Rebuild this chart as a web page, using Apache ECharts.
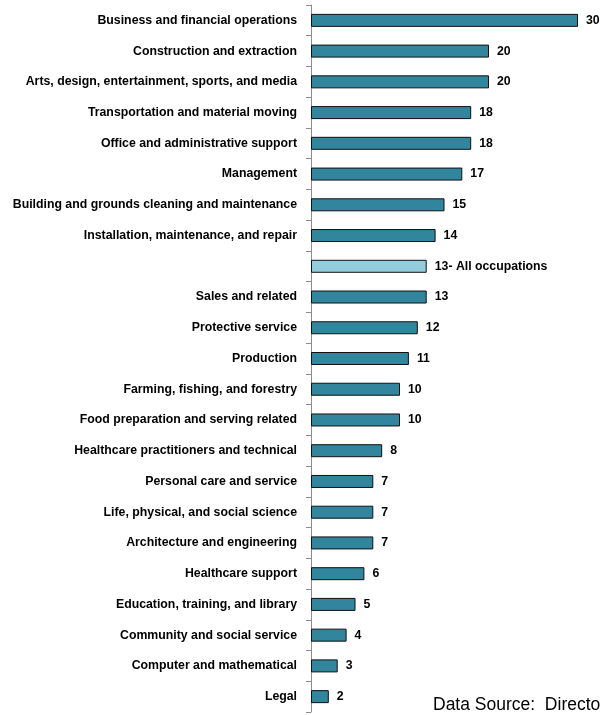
<!DOCTYPE html>
<html>
<head>
<meta charset="utf-8">
<script src="https://cdn.jsdelivr.net/npm/echarts@6/dist/echarts.min.js"></script>
<style>
  html, body { margin: 0; padding: 0; background: #fff; }
  #chart { width: 602px; height: 715px; }
</style>
</head>
<body>
<div id="chart"></div>
<script>
// occupations, top to bottom ('' = the all-occupations reference bar)
const categories = [
    'Business and financial operations',
    'Construction and extraction',
    'Arts, design, entertainment, sports, and media',
    'Transportation and material moving',
    'Office and administrative support',
    'Management',
    'Building and grounds cleaning and maintenance',
    'Installation, maintenance, and repair',
    '',
    'Sales and related',
    'Protective service',
    'Production',
    'Farming, fishing, and forestry',
    'Food preparation and serving related',
    'Healthcare practitioners and technical',
    'Personal care and service',
    'Life, physical, and social science',
    'Architecture and engineering',
    'Healthcare support',
    'Education, training, and library',
    'Community and social service',
    'Computer and mathematical',
    'Legal'
];
const values = [30, 20, 20, 18, 18, 17, 15, 14, 13, 13, 12, 11, 10, 10, 8, 7, 7, 7, 6, 5, 4, 3, 2];
const allIndex = 8;
const allLabel = '- All occupations';
const sourceText = 'Data Source:  Directo';

const FONT = '"Liberation Sans", Arial, sans-serif';

const chart = echarts.init(document.getElementById('chart'));

// the "all occupations" bar gets a lighter fill and its own label
const barData = values.map((v, i) => {
    if (i !== allIndex) return v;
    return {
        value: v,
        itemStyle: { color: '#93cddd' },
        label: { formatter: '{c}' + allLabel }
    };
});

chart.setOption({
    animation: false,
    grid: { left: 311, right: 24, top: 5, bottom: 3, containLabel: false },
    xAxis: {
        type: 'value',
        min: 0,
        max: 30,
        show: false
    },
    yAxis: {
        type: 'category',
        data: categories,
        inverse: true,
        axisLine: { show: true, lineStyle: { color: '#8c8c8c', width: 1 } },
        axisTick: { show: true, length: 5, lineStyle: { color: '#8c8c8c' } },
        axisLabel: {
            margin: 14,
            color: '#000',
            fontFamily: FONT,
            fontWeight: 'bold',
            fontSize: 12.3,
            interval: 0
        }
    },
    series: [{
        type: 'bar',
        data: barData,
        barWidth: 13,
        itemStyle: { color: '#31859c', borderColor: '#111', borderWidth: 1 },
        label: {
            show: true,
            position: 'right',
            distance: 8,
            color: '#000',
            fontFamily: FONT,
            fontWeight: 'bold',
            fontSize: 12.3
        }
    }],
    graphic: [{
        type: 'text',
        left: 433,
        top: 696,
        style: {
            text: sourceText,
            fontFamily: FONT,
            fontSize: 17.5,
            fill: '#000'
        }
    }]
});
</script>
</body>
</html>
